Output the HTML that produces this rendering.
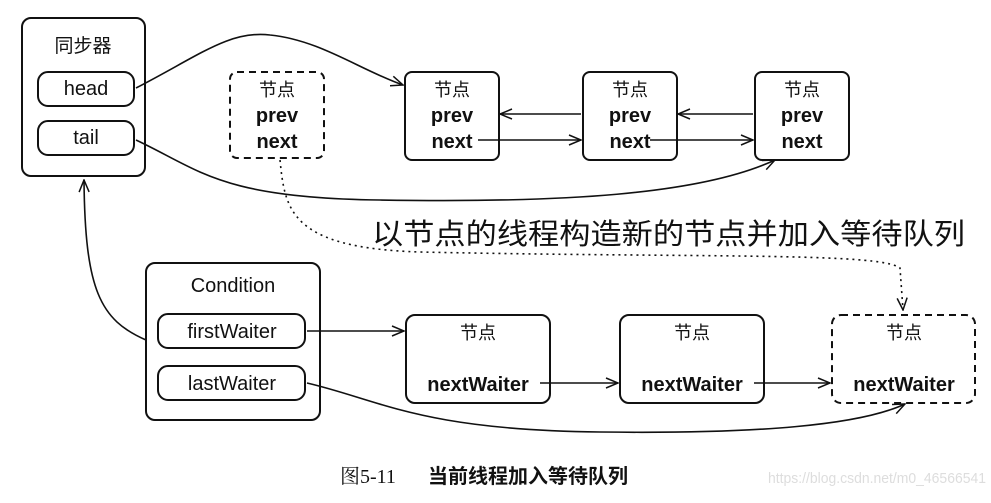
<!DOCTYPE html>
<html><head><meta charset="utf-8"><style>
body{margin:0;background:#fff;width:991px;height:498px;overflow:hidden}
svg text{font-family:"Liberation Sans","Noto Sans CJK SC",sans-serif;fill:#111}
</style></head><body>
<svg width="991" height="498" viewBox="0 0 991 498">
<defs><marker id="a" markerWidth="14" markerHeight="12" refX="13" refY="6" orient="auto" markerUnits="userSpaceOnUse"><path d="M1,1 L13,6 L1,11" fill="none" stroke="#111" stroke-width="1.5"/></marker></defs>
<g fill="none" stroke="#111" stroke-width="2">
<rect x="22" y="18" width="123" height="158" rx="9"/>
<rect x="38" y="72" width="96" height="34" rx="10"/>
<rect x="38" y="121" width="96" height="34" rx="10"/>
<rect x="230" y="72" width="94" height="86" rx="7" stroke-dasharray="7,5"/>
<rect x="405" y="72" width="94" height="88" rx="7"/>
<rect x="583" y="72" width="94" height="88" rx="7"/>
<rect x="755" y="72" width="94" height="88" rx="7"/>
<rect x="146" y="263" width="174" height="157" rx="9"/>
<rect x="158" y="314" width="147" height="34" rx="10"/>
<rect x="158" y="366" width="147" height="34" rx="10"/>
<rect x="406" y="315" width="144" height="88" rx="9"/>
<rect x="620" y="315" width="144" height="88" rx="9"/>
<rect x="832" y="315" width="143" height="88" rx="9" stroke-dasharray="7,5"/>
</g>
<g fill="none" stroke="#111" stroke-width="1.6">
<path d="M136,88 C200,55 230,30 270,35 C320,40 360,70 403,85" marker-end="url(#a)"/>
<path d="M136,140 C200,170 220,198 380,200 C560,203 700,195 775,160" marker-end="url(#a)"/>
<path d="M581,114 L500,114" marker-end="url(#a)"/>
<path d="M478,140 L581,140" marker-end="url(#a)"/>
<path d="M753,114 L678,114" marker-end="url(#a)"/>
<path d="M650,140 L753,140" marker-end="url(#a)"/>
<path d="M146,340 C100,320 85,290 84,180" marker-end="url(#a)"/>
<path d="M307,331 L404,331" marker-end="url(#a)"/>
<path d="M540,383 L618,383" marker-end="url(#a)"/>
<path d="M754,383 L830,383" marker-end="url(#a)"/>
<path d="M307,383 C380,400 420,430 600,432 C760,434 860,425 905,404" marker-end="url(#a)"/>
<path d="M280,160 C285,210 290,248 420,252 C700,258 880,252 900,268 L903,310" stroke-dasharray="2,4" marker-end="url(#a)"/>
</g>
<g font-size="19" text-anchor="middle">
<text x="83" y="52">同步器</text>
<text x="86" y="95" font-size="20">head</text>
<text x="86" y="144" font-size="20">tail</text>
<text x="277" y="96" font-size="18">节点</text>
<text x="277" y="122" font-weight="bold" font-size="20">prev</text>
<text x="277" y="148" font-weight="bold" font-size="20">next</text>
<text x="452" y="96" font-size="18">节点</text>
<text x="452" y="122" font-weight="bold" font-size="20">prev</text>
<text x="452" y="148" font-weight="bold" font-size="20">next</text>
<text x="630" y="96" font-size="18">节点</text>
<text x="630" y="122" font-weight="bold" font-size="20">prev</text>
<text x="630" y="148" font-weight="bold" font-size="20">next</text>
<text x="802" y="96" font-size="18">节点</text>
<text x="802" y="122" font-weight="bold" font-size="20">prev</text>
<text x="802" y="148" font-weight="bold" font-size="20">next</text>
<text x="233" y="292" font-size="20">Condition</text>
<text x="232" y="338" font-size="20">firstWaiter</text>
<text x="232" y="390" font-size="20">lastWaiter</text>
<text x="478" y="339" font-size="18">节点</text>
<text x="478" y="391" font-weight="bold" font-size="20">nextWaiter</text>
<text x="692" y="339" font-size="18">节点</text>
<text x="692" y="391" font-weight="bold" font-size="20">nextWaiter</text>
<text x="904" y="339" font-size="18">节点</text>
<text x="904" y="391" font-weight="bold" font-size="20">nextWaiter</text>
</g>
<text x="372" y="244" font-size="29" textLength="593" lengthAdjust="spacingAndGlyphs">以节点的线程构造新的节点并加入等待队列</text>
<text x="340" y="483" font-size="20" style="font-family:'Liberation Serif','Noto Serif CJK SC',serif">图5-11</text>
<text x="428" y="483" font-size="20" font-weight="bold" style="font-family:'Noto Sans CJK SC',sans-serif">当前线程加入等待队列</text>
<text x="768" y="483" font-size="15" textLength="218" lengthAdjust="spacingAndGlyphs" style="fill:#ddd">https://blog.csdn.net/m0_46566541</text>
</svg>
</body></html>
